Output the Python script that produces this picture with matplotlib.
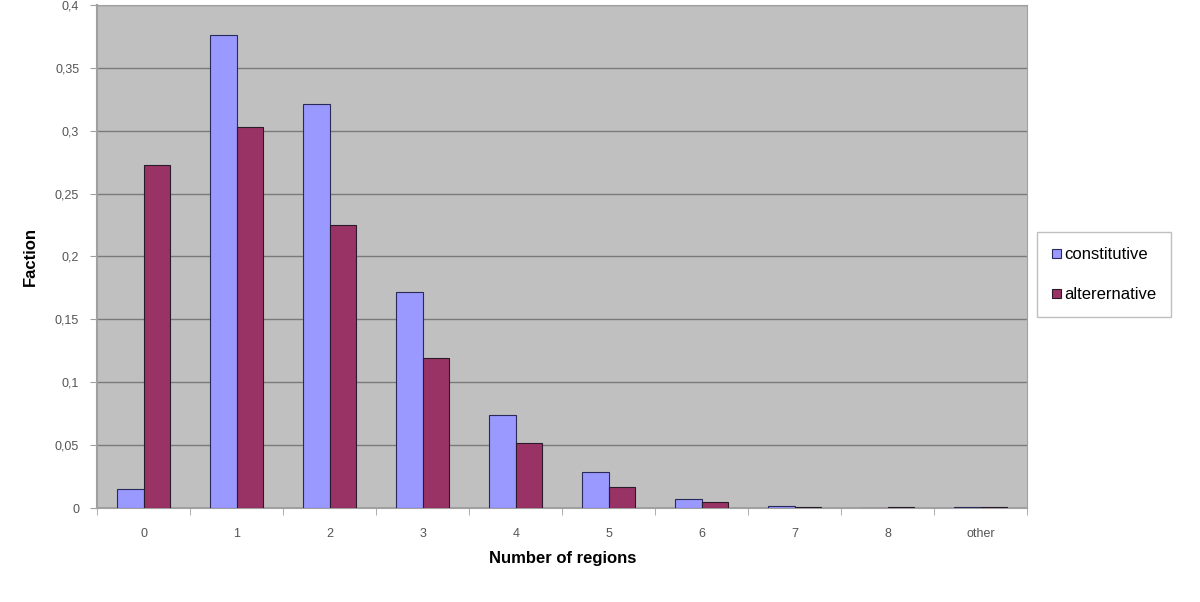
import numpy as np
import matplotlib
matplotlib.use("Agg")
import matplotlib.pyplot as plt

categories = ["0", "1", "2", "3", "4", "5", "6", "7", "8", "other"]
constitutive = [0.015, 0.376, 0.321, 0.172, 0.074, 0.029, 0.007, 0.002, 0.0, 0.001]
alternative = [0.273, 0.303, 0.225, 0.119, 0.052, 0.017, 0.005, 0.001, 0.001, 0.001]
y_ticks = [0, 0.05, 0.1, 0.15, 0.2, 0.25, 0.3, 0.35, 0.4]

plt.rcParams["font.family"] = ["Liberation Sans", "DejaVu Sans"]

fig = plt.figure(figsize=(12, 6.02), dpi=100)
ax = fig.add_axes([0.081, 0.156, 0.775, 0.836])
ax.set_facecolor("#c0c0c0")

x = np.arange(len(categories))
w = 0.286
ax.bar(x - w / 2, constitutive, w, color="#9999ff", edgecolor="#2a2a5a",
       linewidth=0.8, label="constitutive", zorder=3)
ax.bar(x + w / 2, alternative, w, color="#993366", edgecolor="#2a1a2a",
       linewidth=0.8, label="alterernative", zorder=3)

ax.set_xlim(-0.5, len(categories) - 0.5)
ax.set_ylim(0, 0.4)
ax.set_yticks(y_ticks)
ax.set_yticklabels([f"{v:g}".replace(".", ",") for v in y_ticks])
ax.yaxis.grid(True, color="#7a7a7a", linewidth=1.0, zorder=0)

ax.set_xticks(x)
ax.set_xticklabels(categories)
ax.set_xticks(np.arange(len(categories) + 1) - 0.5, minor=True)
ax.tick_params(axis="x", which="major", length=0, pad=14)
ax.tick_params(axis="x", which="minor", length=5, color="#a0a0a0")
ax.tick_params(axis="y", length=5, color="#a0a0a0", pad=8)
ax.tick_params(labelsize=9, labelcolor="#555555")

for side in ["top", "right", "left", "bottom"]:
    ax.spines[side].set_color("#a0a0a0")
ax.spines["left"].set_linewidth(1.5)
ax.spines["bottom"].set_linewidth(1.5)

ax.set_xlabel("Number of regions", fontsize=12, fontweight="bold", labelpad=8)
ax.set_ylabel("Faction", fontsize=12, fontweight="bold", labelpad=12)

leg = ax.legend(loc="upper left", bbox_to_anchor=(1.011, 0.548), frameon=True,
                fancybox=False, fontsize=12, handlelength=0.5, handleheight=0.5,
                handletextpad=0.2, labelspacing=1.5, borderpad=0.9,
                borderaxespad=0)
leg.get_frame().set_edgecolor("#b0b0b0")
leg.get_frame().set_linewidth(1.0)

fig.savefig("out.png", dpi=100)
